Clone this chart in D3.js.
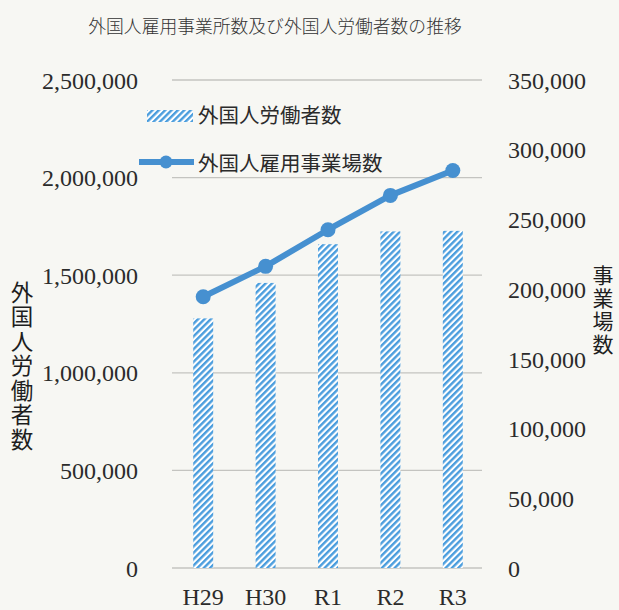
<!DOCTYPE html>
<html><head><meta charset="utf-8">
<script src="https://cdn.jsdelivr.net/npm/d3@7"></script>
<style>
html,body{margin:0;padding:0;background:#f7f7f3;}
svg{display:block;}
</style></head>
<body>
<svg id="chart" width="619" height="610"></svg>
<script>
const title = "外国人雇用事業所数及び外国人労働者数の推移";
const categories = ["H29","H30","R1","R2","R3"];
const workers = [1278670, 1460463, 1658804, 1724328, 1727221];
const establishments = [194595, 216348, 242608, 267243, 285080];
const leftTicks = [0, 500000, 1000000, 1500000, 2000000, 2500000];
const rightTicks = [0, 50000, 100000, 150000, 200000, 250000, 300000, 350000];
const seriesNames = ["外国人労働者数", "外国人雇用事業場数"];
const leftTitle = "外国人労働者数";
const rightTitle = "事業場数";

const svg = d3.select("#chart");
const W = 619, H = 610;
const plot = {left: 172, right: 482, top: 80, bottom: 568};
const blue = "#4a9ddd", lineBlue = "#4690d0", textCol = "#2b2b2b";
const numFont = "'Liberation Serif', 'Times New Roman', serif";
const jpFont = "'Noto Sans CJK JP', sans-serif";
const numSize = 24;

svg.append("rect").attr("width", W).attr("height", H).attr("fill", "#f7f7f3");

const defs = svg.append("defs");
const pat = defs.append("pattern").attr("id", "hatch")
  .attr("patternUnits", "userSpaceOnUse").attr("width", 4.5).attr("height", 10)
  .attr("patternTransform", "rotate(45)");
pat.append("rect").attr("width", 4.5).attr("height", 10).attr("fill", "#ffffff");
pat.append("rect").attr("width", 2.4).attr("height", 10).attr("fill", blue);

const x = d3.scaleBand().domain(categories).range([plot.left, 484])
  .paddingInner(0.68).paddingOuter(0.34);
const yL = d3.scaleLinear().domain([0, 2500000]).range([plot.bottom, plot.top]);
const yR = d3.scaleLinear().domain([0, 350000]).range([plot.bottom, plot.top]);

// gridlines
svg.append("g").selectAll("line").data(leftTicks).join("line")
  .attr("x1", plot.left).attr("x2", plot.right)
  .attr("y1", d => yL(d)).attr("y2", d => yL(d))
  .attr("stroke", "#c4c4c0").attr("stroke-width", 1.3);

// left axis
const gL = svg.append("g").attr("transform", "translate(138,0)")
  .call(d3.axisLeft(yL).tickValues(leftTicks).tickFormat(d3.format(",")).tickSize(0).tickPadding(0));
gL.select(".domain").remove();
gL.selectAll("text").attr("font-family", numFont).attr("font-size", numSize).attr("fill", textCol).attr("dy", "0.34em");

// right axis
const gR = svg.append("g").attr("transform", "translate(508,0)")
  .call(d3.axisRight(yR).tickValues(rightTicks).tickFormat(d3.format(",")).tickSize(0).tickPadding(0));
gR.select(".domain").remove();
gR.selectAll("text").attr("font-family", numFont).attr("font-size", numSize).attr("fill", textCol).attr("dy", "0.34em");

// x axis labels
const gX = svg.append("g").attr("transform", `translate(0,${plot.bottom + 19})`)
  .call(d3.axisBottom(x).tickSize(0).tickPadding(0));
gX.select(".domain").remove();
gX.selectAll("text").attr("font-family", numFont).attr("font-size", numSize).attr("fill", textCol).attr("dy", "0.75em");

// bars
svg.append("g").selectAll("rect").data(categories).join("rect")
  .attr("x", d => x(d)).attr("width", x.bandwidth())
  .attr("y", (d, i) => yL(workers[i]))
  .attr("height", (d, i) => yL(0) - yL(workers[i]))
  .attr("fill", "url(#hatch)");

// line
const cx = d => x(d) + x.bandwidth() / 2;
const line = d3.line().x((d, i) => cx(categories[i])).y(d => yR(d));
svg.append("path").datum(establishments).attr("d", line)
  .attr("fill", "none").attr("stroke", lineBlue).attr("stroke-width", 6).attr("stroke-linejoin", "round");
svg.append("g").selectAll("circle").data(establishments).join("circle")
  .attr("cx", (d, i) => cx(categories[i])).attr("cy", d => yR(d)).attr("r", 7.5)
  .attr("fill", lineBlue);

// title
svg.append("text").attr("x", 275).attr("y", 25).attr("text-anchor", "middle")
  .attr("dominant-baseline", "central")
  .attr("font-family", jpFont).attr("font-weight", 300).attr("font-size", 17.8)
  .attr("fill", "#333").text(title);

// legend
const leg = svg.append("g");
leg.append("rect").attr("x", 147).attr("y", 110).attr("width", 46).attr("height", 12).attr("fill", "url(#hatch)");
leg.append("text").attr("x", 198).attr("y", 114).attr("dominant-baseline", "central")
  .attr("font-family", jpFont).attr("font-size", 20.5).attr("fill", textCol).text(seriesNames[0]);
leg.append("line").attr("x1", 139).attr("x2", 194).attr("y1", 162).attr("y2", 162)
  .attr("stroke", lineBlue).attr("stroke-width", 6);
leg.append("circle").attr("cx", 166).attr("cy", 162).attr("r", 6.5).attr("fill", lineBlue);
leg.append("text").attr("x", 198).attr("y", 162).attr("dominant-baseline", "central")
  .attr("font-family", jpFont).attr("font-size", 20.5).attr("fill", textCol).text(seriesNames[1]);

// axis titles (vertical writing)
svg.append("text").attr("x", 22).attr("y", 281)
  .style("writing-mode", "vertical-rl").style("letter-spacing", "2px")
  .attr("font-family", jpFont).attr("font-size", 22.5).attr("fill", "#1e1e1e").text(leftTitle);
svg.append("text").attr("x", 603).attr("y", 265)
  .style("writing-mode", "vertical-rl").style("letter-spacing", "2px")
  .attr("font-family", jpFont).attr("font-size", 21).attr("fill", "#1e1e1e").text(rightTitle);
</script>
</body></html>
